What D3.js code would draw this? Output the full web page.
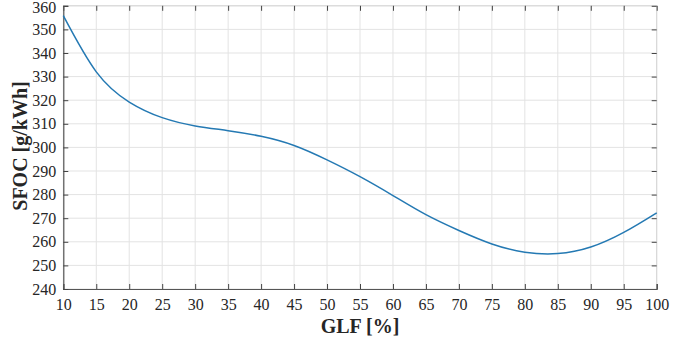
<!DOCTYPE html>
<html>
<head>
<meta charset="utf-8">
<script src="https://cdn.jsdelivr.net/npm/d3@7"></script>
<style>
  html, body { margin: 0; padding: 0; background: #fff; }
  svg { display: block; }
  text { font-family: "Times New Roman", "Liberation Serif", Times, serif; fill: #262626; }
</style>
</head>
<body>
<svg id="chart" width="693" height="343"></svg>
<script>
// Data
const glf  = [10, 15, 20, 25, 30, 35, 40, 45, 50, 55, 60, 65, 70, 75, 80, 85, 90, 95, 100];
const sfoc = [355.8, 332.0, 319.2, 312.6, 309.1, 307.1, 304.7, 300.8, 294.7, 287.6, 279.6, 271.5, 264.8, 259.1, 255.6, 255.0, 257.8, 264.0, 272.3];
const xTicks = [10, 15, 20, 25, 30, 35, 40, 45, 50, 55, 60, 65, 70, 75, 80, 85, 90, 95, 100];
const yTicks = [240, 250, 260, 270, 280, 290, 300, 310, 320, 330, 340, 350, 360];
const xLabel = "GLF [%]";
const yLabel = "SFOC [g/kWh]";

const FONT = '"Times New Roman", "Liberation Serif", Times, serif';
const svg = d3.select("#chart");
const m = { left: 63.3, right: 693 - 656.7, top: 5.8, bottom: 343 - 289 };
const W = 693, H = 343;
const x = d3.scaleLinear().domain([10, 100]).range([m.left, W - m.right]);
const y = d3.scaleLinear().domain([240, 360]).range([H - m.bottom, m.top]);

// grid
const g = svg.append("g");
g.selectAll(".vg").data(xTicks).enter().append("line")
  .attr("x1", d => x(d)).attr("x2", d => x(d))
  .attr("y1", y(240)).attr("y2", y(360))
  .attr("stroke", "#e3e3e3").attr("stroke-width", 1);
g.selectAll(".hg").data(yTicks).enter().append("line")
  .attr("x1", x(10)).attr("x2", x(100))
  .attr("y1", d => y(d)).attr("y2", d => y(d))
  .attr("stroke", "#e3e3e3").attr("stroke-width", 1);

// box (top/right light)
svg.append("line").attr("x1", x(10)).attr("x2", x(100)).attr("y1", y(360)).attr("y2", y(360))
  .attr("stroke", "#d6d6d6");
svg.append("line").attr("x1", x(100)).attr("x2", x(100)).attr("y1", y(240)).attr("y2", y(360))
  .attr("stroke", "#d6d6d6");

// inner ticks top & right
svg.append("g").attr("transform", `translate(0,${y(360)})`)
  .call(d3.axisTop(x).tickValues(xTicks).tickSize(-5).tickFormat(""))
  .call(a => a.select(".domain").remove())
  .call(a => a.selectAll("line").attr("stroke", "#444"));
svg.append("g").attr("transform", `translate(${x(100)},0)`)
  .call(d3.axisRight(y).tickValues(yTicks).tickSize(-5).tickFormat(""))
  .call(a => a.select(".domain").remove())
  .call(a => a.selectAll("line").attr("stroke", "#444"));

// bottom axis
const xa = svg.append("g").attr("transform", `translate(0,${y(240)})`)
  .call(d3.axisBottom(x).tickValues(xTicks).tickSize(-5).tickPadding(10).tickFormat(d3.format("d")));
xa.attr("font-family", FONT);
xa.select(".domain").attr("stroke", "#555").attr("stroke-width", 1.2);
xa.selectAll("line").attr("stroke", "#444");
xa.selectAll("text").attr("font-size", 16).attr("font-family", FONT).attr("fill", "#262626");

// left axis
const ya = svg.append("g").attr("transform", `translate(${x(10)},0)`)
  .call(d3.axisLeft(y).tickValues(yTicks).tickSize(-5).tickPadding(7).tickFormat(d3.format("d")));
ya.attr("font-family", FONT);
ya.select(".domain").attr("stroke", "#555").attr("stroke-width", 1.2);
ya.selectAll("line").attr("stroke", "#444");
ya.selectAll("text").attr("font-size", 16).attr("font-family", FONT).attr("fill", "#262626");
ya.selectAll(".tick").filter(d => d === 360).select("text").attr("y", 1.5);

// line
const line = d3.line().x((d, i) => x(glf[i])).y(d => y(d)).curve(d3.curveNatural);
svg.append("path").datum(sfoc).attr("d", line)
  .attr("fill", "none").attr("stroke", "#2479b3").attr("stroke-width", 1.5);

// labels
svg.append("text").attr("x", 360).attr("y", 333).attr("text-anchor", "middle")
  .attr("font-family", FONT).attr("font-size", 20).attr("font-weight", "bold").text(xLabel);
svg.append("text").attr("transform", `translate(27,146) rotate(-90)`).attr("text-anchor", "middle")
  .attr("font-family", FONT).attr("font-size", 20).attr("font-weight", "bold").text(yLabel);
</script>
</body>
</html>
